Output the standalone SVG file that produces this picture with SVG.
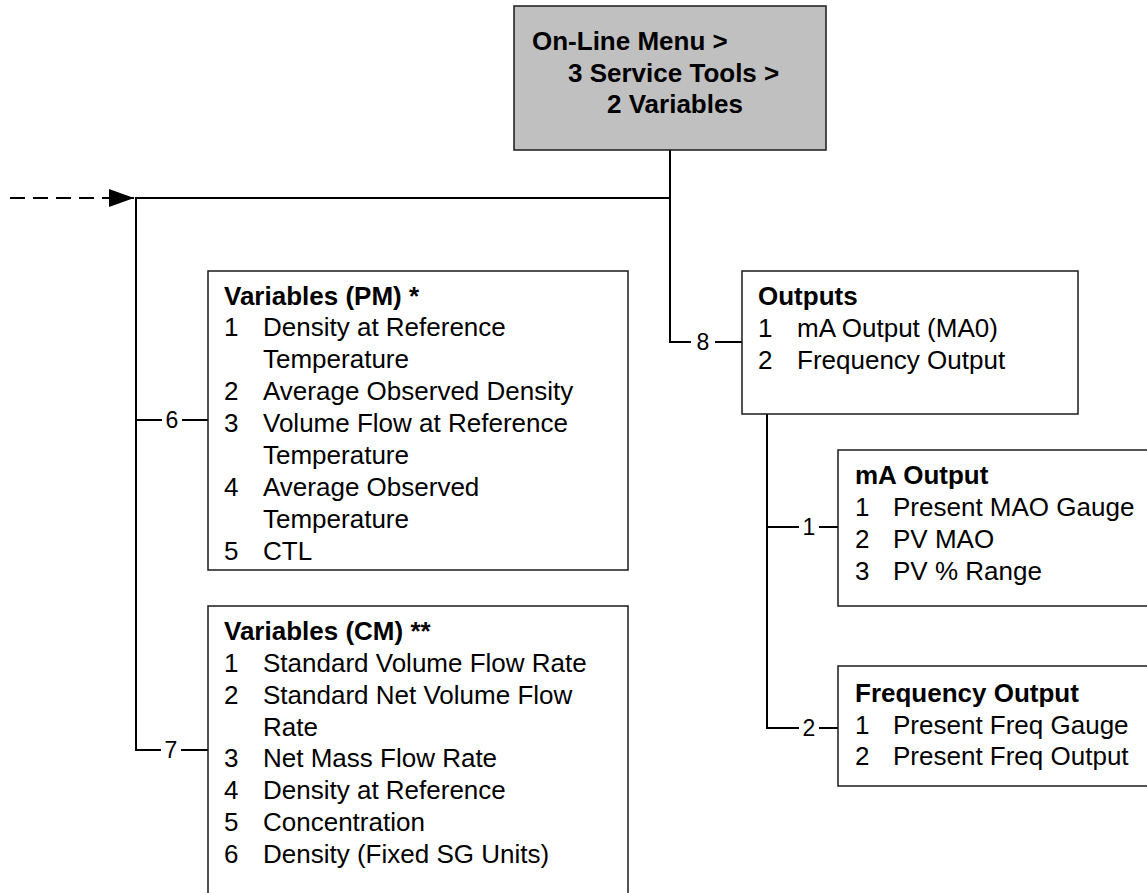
<svg xmlns="http://www.w3.org/2000/svg" width="1147" height="893" viewBox="0 0 1147 893">
<defs>
<style>
.box{fill:#fff;stroke:#1a1a1a;stroke-width:1.5}
.top{fill:#c0c0c0;stroke:#1a1a1a;stroke-width:1.5}
.t{font-family:"Liberation Sans",Arial,sans-serif;font-size:26px;fill:#000}
.b{font-weight:bold}
.lbl{font-family:"Liberation Sans",Arial,sans-serif;font-size:23px;fill:#000;text-anchor:middle}
.ln{stroke:#000;stroke-width:2;fill:none}
.dash{stroke:#000;stroke-width:2;stroke-dasharray:15,8;fill:none}
</style>
<marker id="arr" markerWidth="26" markerHeight="18" refX="25" refY="9" orient="auto" markerUnits="userSpaceOnUse">
<path d="M0,0 L25,9 L0,18 Z" fill="#000"/>
</marker>
</defs>

<g id="connectors">
<line class="dash" x1="10" y1="198" x2="134" y2="198" marker-end="url(#arr)"/>
<polyline class="ln" points="670,150 670,198 135,198"/>
<line class="ln" x1="136" y1="198" x2="136" y2="751"/>
<line class="ln" x1="670" y1="198" x2="670" y2="342"/>
<line class="ln" x1="669" y1="342" x2="691" y2="342"/>
<line class="ln" x1="715" y1="342" x2="742" y2="342"/>
<text class="lbl" x="703" y="350">8</text>
<line class="ln" x1="135" y1="420" x2="162" y2="420"/>
<line class="ln" x1="182" y1="420" x2="208" y2="420"/>
<text class="lbl" x="172" y="428">6</text>
<line class="ln" x1="135" y1="750" x2="161" y2="750"/>
<line class="ln" x1="181" y1="750" x2="208" y2="750"/>
<text class="lbl" x="171" y="758">7</text>
<line class="ln" x1="767" y1="414" x2="767" y2="729"/>
<line class="ln" x1="766" y1="527" x2="799" y2="527"/>
<line class="ln" x1="819" y1="527" x2="838" y2="527"/>
<text class="lbl" x="809" y="535">1</text>
<line class="ln" x1="766" y1="728" x2="799" y2="728"/>
<line class="ln" x1="819" y1="728" x2="838" y2="728"/>
<text class="lbl" x="809" y="736">2</text>
</g>

<g id="node-root">
<rect class="top" x="514" y="6" width="312" height="144"/>
<text class="t b" x="532" y="50">On-Line Menu &gt;</text>
<text class="t b" x="568" y="82">3 Service Tools &gt;</text>
<text class="t b" x="607" y="113">2 Variables</text>
</g>

<g id="node-pm">
<rect class="box" x="208" y="271" width="420" height="299"/>
<text class="t b" x="224" y="305">Variables (PM) *</text>
<text class="t" x="224" y="336">1</text><text class="t" x="263" y="336">Density at Reference</text>
<text class="t" x="263" y="368">Temperature</text>
<text class="t" x="224" y="400">2</text><text class="t" x="263" y="400">Average Observed Density</text>
<text class="t" x="224" y="432">3</text><text class="t" x="263" y="432">Volume Flow at Reference</text>
<text class="t" x="263" y="464">Temperature</text>
<text class="t" x="224" y="496">4</text><text class="t" x="263" y="496">Average Observed</text>
<text class="t" x="263" y="528">Temperature</text>
<text class="t" x="224" y="560">5</text><text class="t" x="263" y="560">CTL</text>
</g>

<g id="node-cm">
<rect class="box" x="208" y="606" width="420" height="300"/>
<text class="t b" x="224" y="640">Variables (CM) **</text>
<text class="t" x="224" y="672">1</text><text class="t" x="263" y="672">Standard Volume Flow Rate</text>
<text class="t" x="224" y="704">2</text><text class="t" x="263" y="704">Standard Net Volume Flow</text>
<text class="t" x="263" y="736">Rate</text>
<text class="t" x="224" y="767">3</text><text class="t" x="263" y="767">Net Mass Flow Rate</text>
<text class="t" x="224" y="799">4</text><text class="t" x="263" y="799">Density at Reference</text>
<text class="t" x="224" y="831">5</text><text class="t" x="263" y="831">Concentration</text>
<text class="t" x="224" y="863">6</text><text class="t" x="263" y="863">Density (Fixed SG Units)</text>
</g>

<g id="node-outputs">
<rect class="box" x="742" y="271" width="336" height="143"/>
<text class="t b" x="758" y="305">Outputs</text>
<text class="t" x="758" y="337">1</text><text class="t" x="797" y="337">mA Output (MA0)</text>
<text class="t" x="758" y="369">2</text><text class="t" x="797" y="369">Frequency Output</text>
</g>

<g id="node-ma">
<rect class="box" x="838" y="450" width="330" height="156"/>
<text class="t b" x="855" y="484">mA Output</text>
<text class="t" x="855" y="516">1</text><text class="t" x="893" y="516">Present MAO Gauge</text>
<text class="t" x="855" y="548">2</text><text class="t" x="893" y="548">PV MAO</text>
<text class="t" x="855" y="580">3</text><text class="t" x="893" y="580">PV % Range</text>
</g>

<g id="node-freq">
<rect class="box" x="838" y="666" width="330" height="120"/>
<text class="t b" x="855" y="702">Frequency Output</text>
<text class="t" x="855" y="734">1</text><text class="t" x="893" y="734">Present Freq Gauge</text>
<text class="t" x="855" y="765">2</text><text class="t" x="893" y="765">Present Freq Output</text>
</g>
</svg>
